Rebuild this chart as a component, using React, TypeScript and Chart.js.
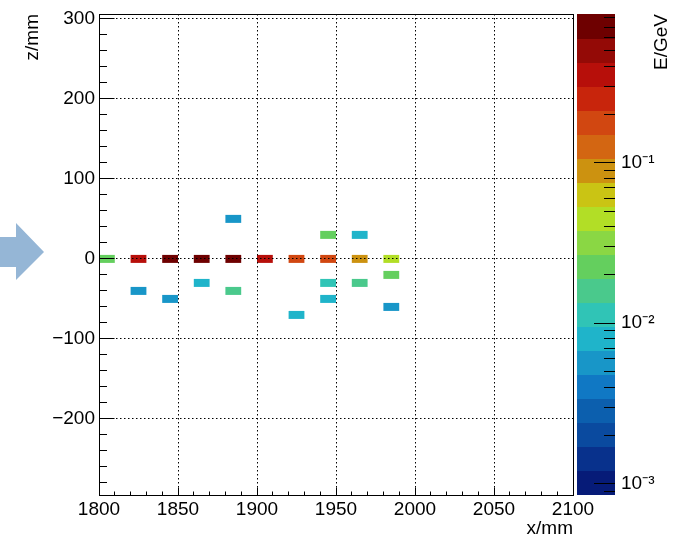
import React, { useEffect, useRef } from 'react';
import { Chart, registerables } from 'chart.js';

Chart.register(...registerables);

// ---- axis ranges ----
const X_MIN = 1800;
const X_MAX = 2100;
const X_MAJOR = 50;
const X_MINOR = 10;
const Z_MIN = -295;
const Z_MAX = 306;
const Z_MAJOR = 100;
const Z_MINOR = 20;
const E_LOG_MIN = -3.07;
const E_LOG_MAX = -0.0735;
const E_MIN = Math.pow(10, E_LOG_MIN);
const E_MAX = Math.pow(10, E_LOG_MAX);

// ---- tick labels ----
const X_TICKS = [1800, 1850, 1900, 1950, 2000, 2050, 2100];
const Z_TICKS = [-200, -100, 0, 100, 200, 300];
const E_TICKS = [0.001, 0.01, 0.1];

// ---- cell geometry (mm) ----
const BIN_W = 10;
const BIN_H = 10;
const COL_PITCH = 20;

// ---- data: cell centres (x, z in mm) and deposited energy (GeV) ----
const cellX = [1805, 1825, 1825, 1845, 1845, 1865, 1865, 1885, 1885, 1885, 1905, 1925, 1925, 1945, 1945, 1945, 1945, 1965, 1965, 1965, 1985, 1985, 1985];
const cellZ = [0, 0, -40, 0, -50, 0, -30, 0, 50, -40, 0, 0, -70, 0, 30, -30, -50, 0, 30, -30, 0, -20, -60];
const cellE = [0.022, 0.33, 0.0056, 0.68, 0.0055, 0.71, 0.008, 0.66, 0.0057, 0.016, 0.36, 0.18, 0.0078, 0.17, 0.022, 0.011, 0.0079, 0.09, 0.008, 0.016, 0.045, 0.023, 0.0056];

// palette, bottom (low E) to top (high E)
const PALETTE = [
  '#061b78', '#08318c', '#0a4a9f', '#0c5fae', '#1078c4',
  '#1896c8', '#1fb4ca', '#30c4b6', '#4ac98c', '#64cf5e',
  '#8ad744', '#b2de26', '#cac414', '#cc9210', '#d36612',
  '#d14711', '#c8250c', '#b70f0a', '#940a06', '#6e0000',
];

const FONT = "'Liberation Sans', Arial, Helvetica, sans-serif";

function colorFor(e: number): string {
  const n = PALETTE.length;
  const d = (E_LOG_MAX - E_LOG_MIN) / n;
  let i = Math.floor((Math.log10(e) - E_LOG_MIN) / d);
  if (i < 0) i = 0;
  if (i > n - 1) i = n - 1;
  return PALETTE[i];
}

const SUP: Record<string, string> = {
  '-': '\u207B', '0': '\u2070', '1': '\u00B9', '2': '\u00B2', '3': '\u00B3',
  '4': '\u2074', '5': '\u2075', '6': '\u2076', '7': '\u2077', '8': '\u2078', '9': '\u2079',
};
const sup = (n: number) => String(n).split('').map((c) => SUP[c] || c).join('');
const fmt = (v: number) => (v < 0 ? '\u2212' + Math.abs(v) : String(v));
const align = (p: number) => Math.round(p - 0.5) + 0.5;

const decoPlugin = {
  id: 'deco',
  beforeDraw(chart: any) {
    const { ctx } = chart;
    ctx.save();
    ctx.fillStyle = '#95b6d6';
    ctx.beginPath();
    ctx.moveTo(0, 237);
    ctx.lineTo(16, 237);
    ctx.lineTo(16, 223);
    ctx.lineTo(44, 252);
    ctx.lineTo(16, 280);
    ctx.lineTo(16, 267);
    ctx.lineTo(0, 267);
    ctx.closePath();
    ctx.fill();
    ctx.restore();
  },
  afterDraw(chart: any) {
    const { ctx, chartArea: a } = chart;
    const xs = chart.scales.x;
    const ys = chart.scales.y;
    const cb = chart.scales.cb;
    ctx.save();
    ctx.setLineDash([]);
    ctx.strokeStyle = '#000';
    ctx.lineWidth = 1;
    const L = align(a.left);
    const R = align(a.right);
    const T = align(a.top);
    const B = align(a.bottom);
    ctx.strokeRect(L, T, R - L, B - T);

    ctx.beginPath();
    for (let v = X_MIN; v <= X_MAX; v += X_MINOR) {
      const px = align(xs.getPixelForValue(v));
      const len = v % X_MAJOR === 0 ? 8 : 4;
      ctx.moveTo(px, B);
      ctx.lineTo(px, B - len);
    }
    for (let v = Math.ceil(Z_MIN / Z_MINOR) * Z_MINOR; v <= Z_MAX; v += Z_MINOR) {
      const py = align(ys.getPixelForValue(v));
      const len = v % Z_MAJOR === 0 ? 15 : 7.5;
      ctx.moveTo(L, py);
      ctx.lineTo(L + len, py);
    }
    ctx.stroke();

    // colour bar
    const bx0 = a.right + 4;
    const bx1 = a.right + 42;
    const n = PALETTE.length;
    const d = (E_LOG_MAX - E_LOG_MIN) / n;
    for (let i = 0; i < n; i++) {
      const yLo = cb.getPixelForValue(Math.pow(10, E_LOG_MIN + i * d));
      const yHi = cb.getPixelForValue(Math.pow(10, E_LOG_MIN + (i + 1) * d));
      ctx.fillStyle = PALETTE[i];
      ctx.fillRect(bx0, Math.floor(yHi), bx1 - bx0, Math.ceil(yLo) - Math.floor(yHi));
    }
    ctx.beginPath();
    for (let ex = Math.floor(E_LOG_MIN); ex <= Math.ceil(E_LOG_MAX); ex++) {
      for (let k = 1; k <= 9; k++) {
        const v = k * Math.pow(10, ex);
        if (v < E_MIN || v > E_MAX) continue;
        const py = align(cb.getPixelForValue(v));
        const len = k === 1 ? 21 : 11;
        ctx.moveTo(bx1, py);
        ctx.lineTo(bx1 - len, py);
      }
    }
    ctx.stroke();

    // colour bar title
    ctx.translate(a.right + 89, a.top);
    ctx.rotate(-Math.PI / 2);
    ctx.textAlign = 'right';
    ctx.textBaseline = 'middle';
    ctx.font = `19px ${FONT}`;
    ctx.fillStyle = '#000';
    ctx.fillText('E/GeV', 0, 0);
    ctx.restore();
  },
};

export default function App() {
  const ref = useRef<HTMLCanvasElement>(null);
  useEffect(() => {
    Chart.defaults.font.family = FONT;
    Chart.defaults.color = '#000';
    const chart = new Chart(ref.current as HTMLCanvasElement, {
      type: 'bar',
      data: {
        datasets: [
          {
            data: cellX.map((x, i) => ({ x, y: [cellZ[i] - BIN_H / 2, cellZ[i] + BIN_H / 2] })) as any,
            backgroundColor: cellE.map(colorFor),
            borderWidth: 0,
            barPercentage: BIN_W / COL_PITCH,
            categoryPercentage: 1,
            xAxisID: 'x',
            yAxisID: 'y',
          },
        ],
      },
      options: {
        responsive: false,
        animation: false,
        events: [],
        layout: { padding: { top: 14, left: 0, right: 0, bottom: 0 } },
        plugins: { legend: { display: false }, tooltip: { enabled: false } },
        scales: {
          x: {
            type: 'linear',
            position: 'bottom',
            min: X_MIN,
            max: X_MAX,
            offset: false,
            afterBuildTicks: (s: any) => { s.ticks = X_TICKS.map((value) => ({ value })); },
            afterFit: (s: any) => { s.height = 48; },
            ticks: { autoSkip: false, maxRotation: 0, color: '#000', font: { size: 19, lineHeight: 1 }, padding: 5, callback: (v: any) => String(v) },
            grid: { display: true, offset: false, color: '#000', lineWidth: 1, drawTicks: false, z: 1 },
            border: { display: true, color: '#000', width: 1, dash: [1.5, 2.5], z: 1 },
            title: { display: true, text: 'x/mm', align: 'end', color: '#000', font: { size: 19 }, padding: { top: 0, bottom: 3 } },
          },
          y: {
            type: 'linear',
            position: 'left',
            min: Z_MIN,
            max: Z_MAX,
            afterBuildTicks: (s: any) => { s.ticks = Z_TICKS.map((value) => ({ value })); },
            afterFit: (s: any) => { s.width = 99; },
            ticks: { autoSkip: false, color: '#000', font: { size: 19, lineHeight: 1 }, padding: 4, callback: (v: any) => fmt(Number(v)) },
            grid: { display: true, color: '#000', lineWidth: 1, drawTicks: false, z: 1 },
            border: { display: true, color: '#000', width: 1, dash: [1.5, 2.5], z: 1 },
            title: { display: true, text: 'z/mm', align: 'end', color: '#000', font: { size: 19 }, padding: { top: 21, bottom: 0 } },
          },
          cb: {
            type: 'logarithmic',
            position: 'right',
            min: E_MIN,
            max: E_MAX,
            afterBuildTicks: (s: any) => { s.ticks = E_TICKS.map((value) => ({ value })); },
            afterFit: (s: any) => { s.width = 101; },
            grid: { display: false, drawTicks: true, tickLength: 48 },
            border: { display: false },
            ticks: {
              autoSkip: false,
              color: '#000',
              font: { size: 19, lineHeight: 1 },
              padding: 0,
              callback: (v: any) => {
                const l = Math.log10(Number(v));
                return '10' + sup(Math.round(l));
              },
            },
          },
        },
      } as any,
      plugins: [decoPlugin],
    });
    return () => chart.destroy();
  }, []);
  return (
    <div style={{ position: 'fixed', left: 0, top: 0, width: 674, height: 543, background: '#fff' }}>
      <canvas ref={ref} width={674} height={543} style={{ display: 'block' }} />
    </div>
  );
}
